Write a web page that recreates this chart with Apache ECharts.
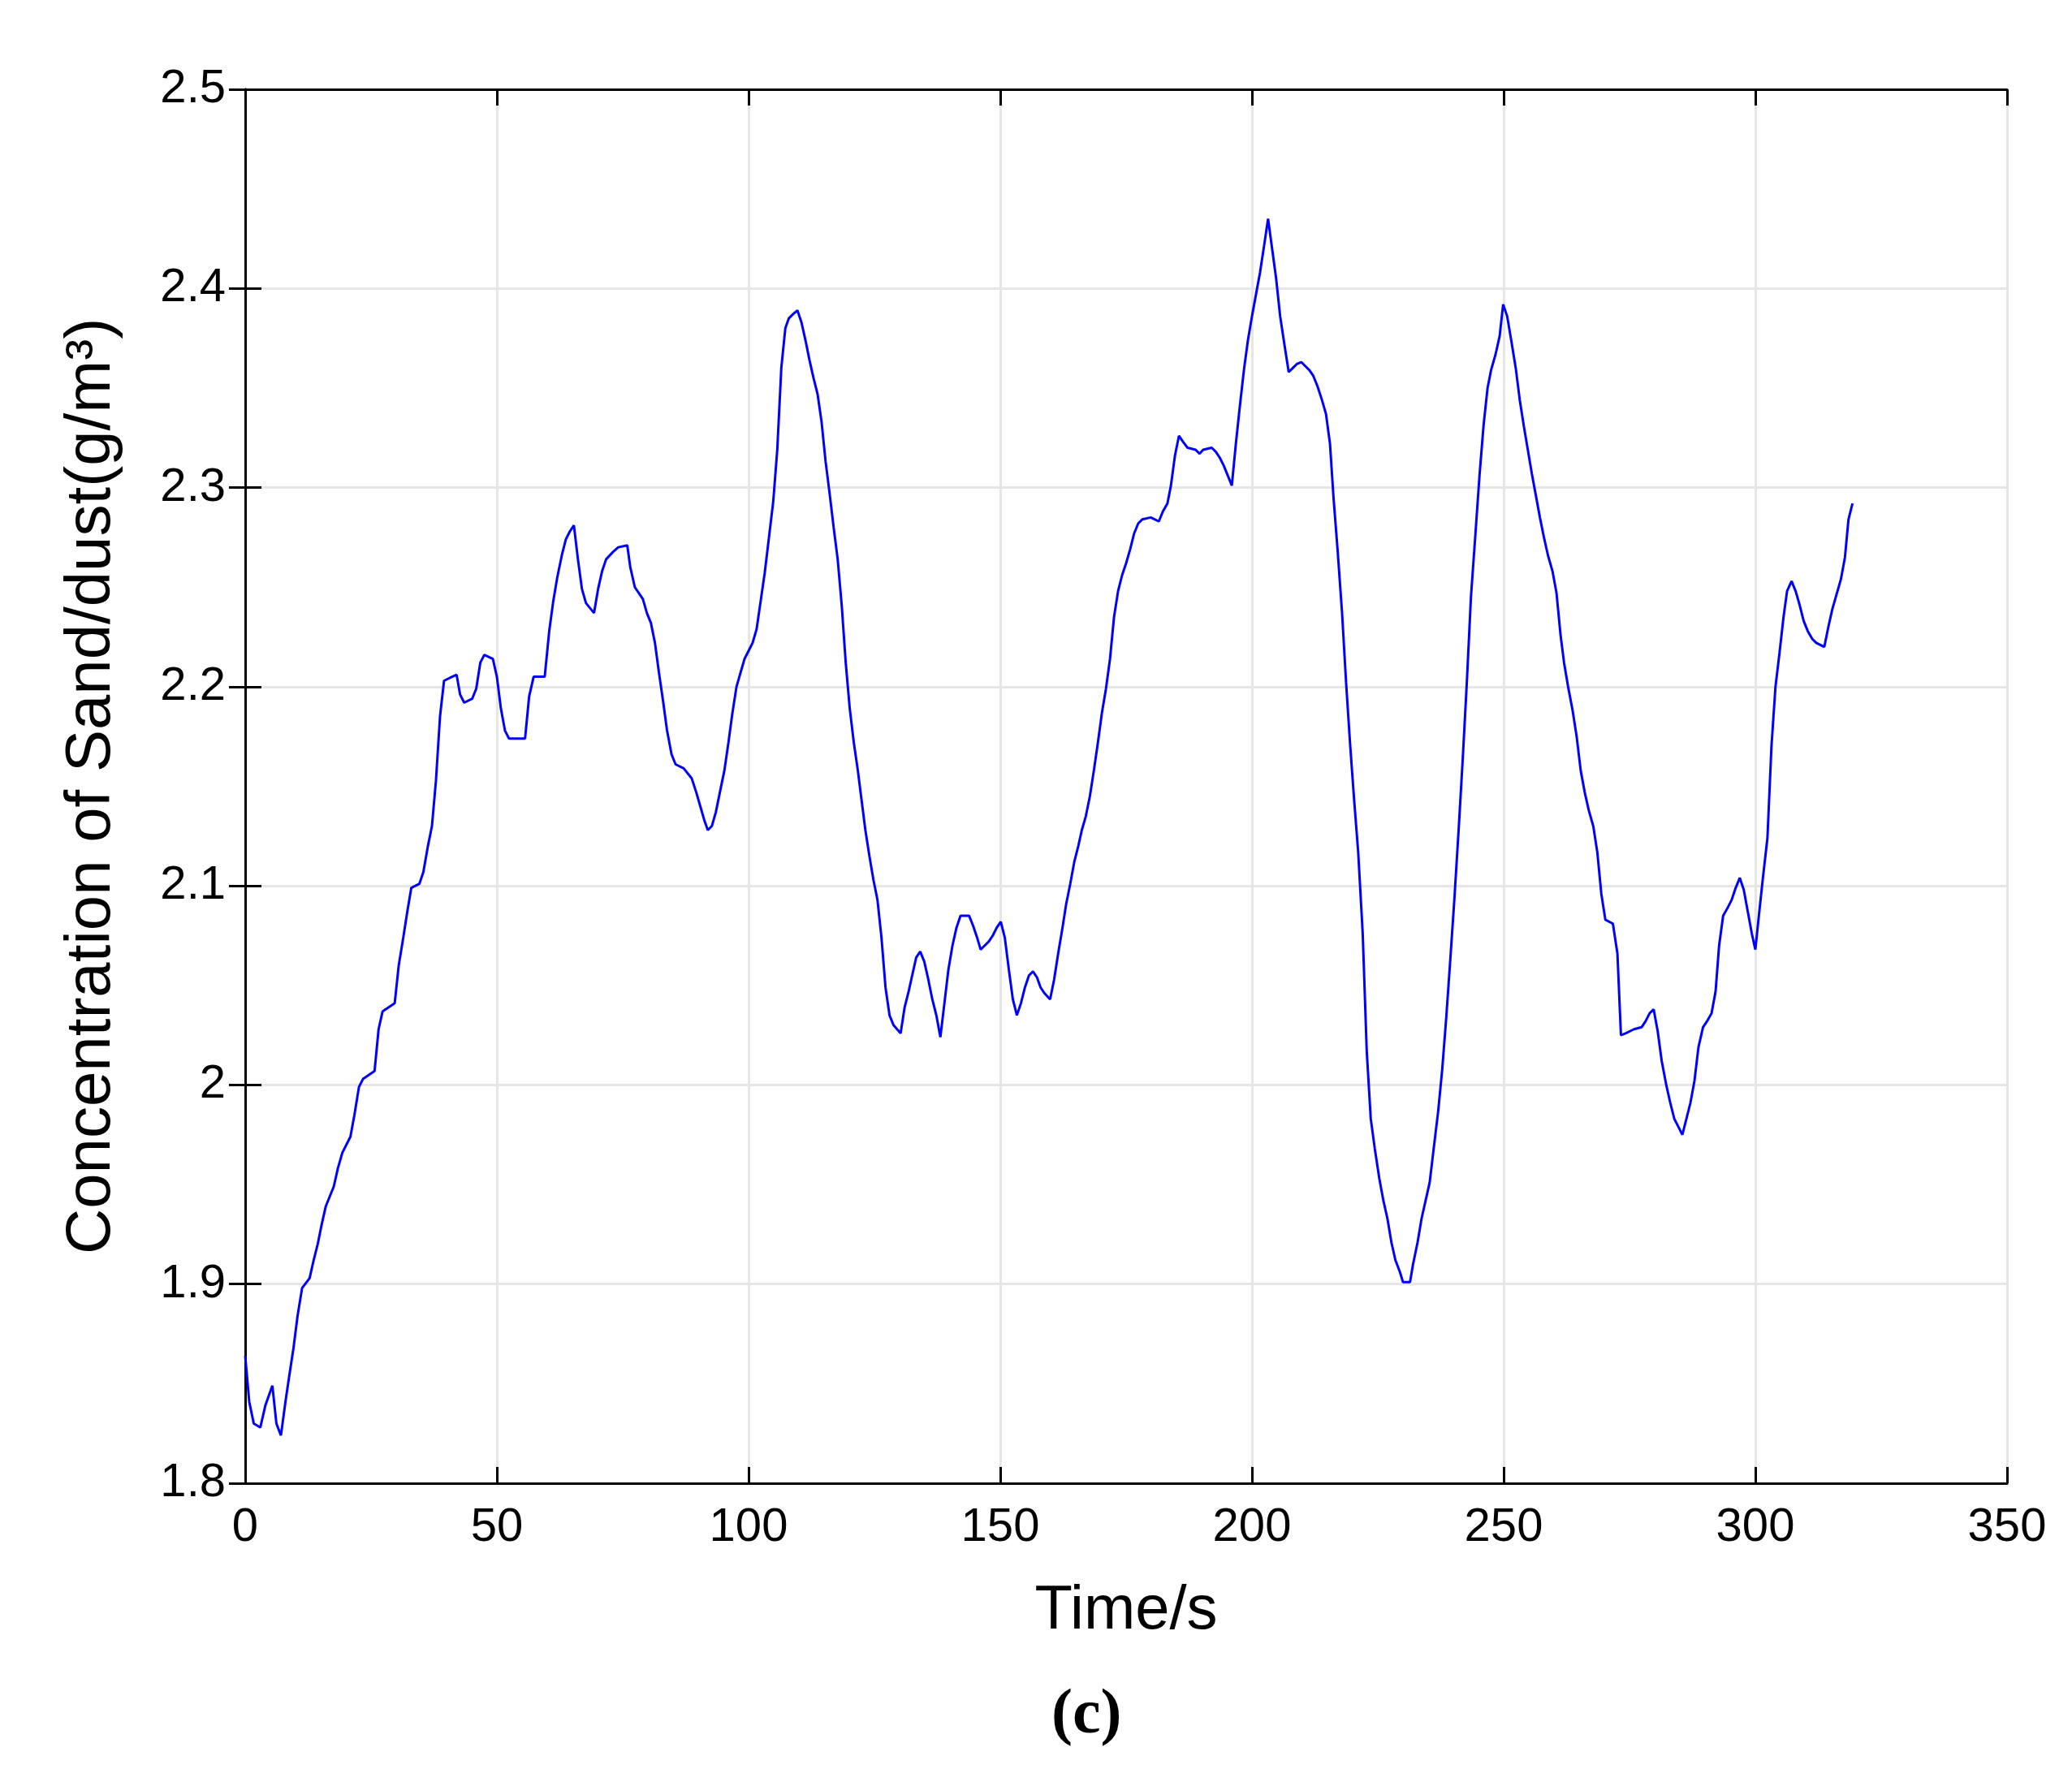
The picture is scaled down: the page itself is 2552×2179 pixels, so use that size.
<!DOCTYPE html>
<html><head><meta charset="utf-8">
<script src="https://cdn.jsdelivr.net/npm/echarts@6/dist/echarts.min.js"></script>
<style>html,body{margin:0;padding:0;background:#fff}#c{width:2552px;height:2179px}</style>
</head><body><div id="c"></div>
<script>
const times = [0,0.8,1.7,3,4,5.4,6.2,7.1,8,8.7,9.6,10.4,11.3,12.8,13.6,14.4,15.2,16,17.6,18.4,19.3,20.9,21.7,22.6,23.4,25.7,26.5,27.3,29.7,30.5,31.4,32.2,33,34.6,35.4,36.3,37.1,37.9,38.7,39.5,41.1,42,42.7,43.5,45.1,45.9,46.7,47.5,49.2,50,50.8,51.6,52.4,55.6,56.4,57.3,59.5,60.4,61.2,62,62.9,63.7,64.5,65.3,66.1,66.9,67.7,69.3,70.1,70.9,71.7,73.2,74.1,75.9,76.5,77.4,79,79.8,80.6,81.4,82.2,83,83.8,84.7,85.5,87.1,88.7,89.6,90.4,91.2,91.9,92.7,93.5,94.3,95.2,96,96.8,97.6,98.4,99.2,100,100.8,101.6,102.4,103.2,104.1,104.9,105.7,106.5,107.3,108,108.8,109.7,110.5,111.3,112.1,112.9,113.7,114.5,115.3,116.1,116.9,117.7,118.5,119.3,120.1,120.9,121.7,122.4,123.2,124,124.8,125.6,126.4,127.2,128,128.8,130.2,131,131.8,132.5,133.3,134.1,134.9,135.7,136.5,137.3,138.1,138.9,139.7,140.5,141.3,142.1,143.8,144.6,145.4,146.1,146.9,147.7,148.5,149.3,150.1,150.9,151.7,152.5,153.3,154.1,154.9,155.7,156.5,157.3,158,158.8,159.9,160.7,161.5,162.3,163.1,163.9,164.7,165.5,166.2,167,167.8,168.6,169.4,170.2,171,171.8,172.6,173.4,174.2,175,175.8,176.6,177.4,178.2,179.9,181.5,182.3,183.2,183.9,184.7,185.5,186.3,187.2,188.8,189.6,190.3,192,192.8,193.6,194.4,195.2,196,196.8,197.6,198.4,199.2,200,200.8,201.6,202.5,203.2,204,204.8,205.6,206.5,207.3,208.1,208.9,209.8,210.6,211.4,212.2,213,213.9,214.7,215.5,216.2,217,217.9,218.7,219.5,220.3,221.1,222,222.8,223.6,224.4,225.3,226.1,226.9,227.7,228.5,229.4,230,231.4,232,232.9,233.7,234.5,235.3,236.1,237,237.8,238.6,239.4,240.2,241.1,241.9,242.7,243.5,244.4,245.2,246,246.8,247.5,248.4,249.2,249.9,250.7,251.5,252.4,253.2,254,254.8,255.6,256.4,257.2,258,258.8,259.7,260.5,261.3,262,262.8,263.7,264.5,265.3,266.1,266.9,267.8,268.6,269.4,270.2,271.7,272.6,273.3,274.3,275.9,277.4,278.2,279,279.8,280.6,281.4,282.3,283.1,283.9,284.7,285.5,286.3,287.1,287.9,288.7,289.6,290.4,291.3,292.1,292.8,293.6,294.5,295.3,296.1,296.9,297.7,298.5,299.3,300,300.7,301.5,302.4,303.2,304,304.8,305.6,306.3,307.2,308,308.8,309.6,310.4,311.3,312.1,312.9,313.7,314.5,315.3,316.2,317,317.8,318.5,319.3];
const concentration = [1.864,1.841,1.830,1.828,1.839,1.849,1.830,1.824,1.841,1.853,1.868,1.884,1.898,1.903,1.912,1.920,1.930,1.939,1.949,1.958,1.966,1.974,1.985,1.999,2.003,2.007,2.028,2.037,2.041,2.060,2.074,2.087,2.099,2.101,2.107,2.120,2.130,2.153,2.185,2.203,2.205,2.206,2.196,2.192,2.194,2.199,2.212,2.216,2.214,2.205,2.189,2.178,2.174,2.174,2.195,2.205,2.205,2.228,2.243,2.255,2.266,2.274,2.278,2.281,2.264,2.249,2.242,2.237,2.249,2.258,2.264,2.268,2.270,2.271,2.260,2.250,2.244,2.237,2.232,2.222,2.207,2.193,2.178,2.166,2.161,2.159,2.154,2.147,2.140,2.133,2.128,2.130,2.137,2.147,2.158,2.172,2.187,2.200,2.207,2.214,2.218,2.222,2.229,2.243,2.257,2.276,2.293,2.319,2.360,2.380,2.385,2.387,2.389,2.383,2.374,2.364,2.355,2.347,2.333,2.313,2.297,2.280,2.264,2.241,2.212,2.189,2.172,2.158,2.144,2.128,2.115,2.103,2.093,2.074,2.049,2.035,2.030,2.026,2.039,2.047,2.055,2.064,2.067,2.062,2.053,2.043,2.035,2.024,2.041,2.058,2.070,2.079,2.085,2.085,2.080,2.074,2.068,2.070,2.072,2.075,2.079,2.082,2.074,2.058,2.043,2.035,2.041,2.049,2.055,2.057,2.054,2.049,2.046,2.043,2.053,2.066,2.078,2.091,2.101,2.112,2.120,2.128,2.135,2.145,2.158,2.172,2.187,2.199,2.214,2.235,2.248,2.256,2.262,2.269,2.277,2.282,2.284,2.285,2.283,2.288,2.292,2.301,2.316,2.326,2.323,2.320,2.319,2.317,2.319,2.320,2.318,2.315,2.311,2.306,2.301,2.322,2.341,2.359,2.374,2.386,2.397,2.408,2.423,2.435,2.420,2.405,2.386,2.371,2.358,2.360,2.362,2.363,2.361,2.359,2.356,2.351,2.344,2.337,2.322,2.295,2.269,2.237,2.202,2.171,2.143,2.117,2.076,2.017,1.983,1.968,1.953,1.942,1.933,1.921,1.912,1.906,1.901,1.901,1.910,1.921,1.933,1.942,1.951,1.968,1.987,2.008,2.034,2.063,2.093,2.130,2.165,2.203,2.245,2.277,2.306,2.331,2.350,2.359,2.367,2.376,2.392,2.386,2.374,2.360,2.344,2.331,2.319,2.307,2.296,2.285,2.275,2.266,2.258,2.247,2.226,2.212,2.200,2.188,2.175,2.158,2.147,2.138,2.130,2.117,2.096,2.083,2.081,2.066,2.025,2.026,2.028,2.029,2.032,2.036,2.038,2.027,2.012,2.000,1.991,1.983,1.979,1.975,1.983,1.991,2.002,2.019,2.029,2.032,2.036,2.047,2.070,2.085,2.089,2.093,2.099,2.104,2.098,2.087,2.076,2.068,2.085,2.104,2.124,2.170,2.200,2.217,2.235,2.248,2.253,2.248,2.241,2.233,2.228,2.224,2.222,2.221,2.220,2.230,2.239,2.247,2.254,2.265,2.284,2.292];
const xTitle = 'Time/s';
const yTitle = 'Concentration of Sand/dust(g/m³)';
const caption = ['(', 'c', ')'];

const font = 'Liberation Sans, Arial, sans-serif';
const chart = echarts.init(document.getElementById('c'));
const axLine = {show:true, lineStyle:{color:'#000', width:3}};
const ticks = {show:true, inside:true, length:20, lineStyle:{color:'#000', width:3}};
chart.setOption({
  animation:false,
  backgroundColor:'#fff',
  title:{text:'{a|'+caption[0]+'}{b|'+caption[1]+'}{a|'+caption[2]+'}', left:1290, top:2070,
    textStyle:{rich:{a:{fontFamily:'Liberation Serif, serif', fontSize:78, color:'#000'},
                     b:{fontFamily:'Liberation Serif, serif', fontSize:78, fontWeight:'bold', color:'#000'}}}},
  grid:{left:302, right:80, top:110, bottom:352},
  xAxis:[{type:'value', min:0, max:350, interval:50, name:xTitle, nameLocation:'middle', nameGap:120,
    nameTextStyle:{fontFamily:font, fontSize:76, color:'#000'},
    axisLine:axLine, axisTick:ticks,
    axisLabel:{fontFamily:font, fontSize:58, color:'#000', margin:26},
    splitLine:{show:true, lineStyle:{color:'#e6e6e6', width:3}}},
    {type:'value', position:'top', min:0, max:350, interval:50, axisLine:axLine, axisTick:ticks,
     axisLabel:{show:false}, splitLine:{show:false}}],
  yAxis:[{type:'value', min:1.8, max:2.5, interval:0.1, name:yTitle, nameLocation:'middle', nameGap:150,
    nameTextStyle:{fontFamily:font, fontSize:78, color:'#000'},
    axisLine:axLine, axisTick:ticks,
    axisLabel:{fontFamily:font, fontSize:58, color:'#000', margin:24, formatter:v=>String(+v.toFixed(1))},
    splitLine:{show:true, lineStyle:{color:'#e6e6e6', width:3}}},
    {type:'value', position:'right', min:1.8, max:2.5, interval:0.1, axisLine:axLine, axisTick:ticks,
     axisLabel:{show:false}, splitLine:{show:false}}],
  series:[{type:'line', data:times.map((t,i)=>[t,concentration[i]]), showSymbol:false,
    lineStyle:{color:'#0000ff', width:3}}]
});
</script></body></html>
